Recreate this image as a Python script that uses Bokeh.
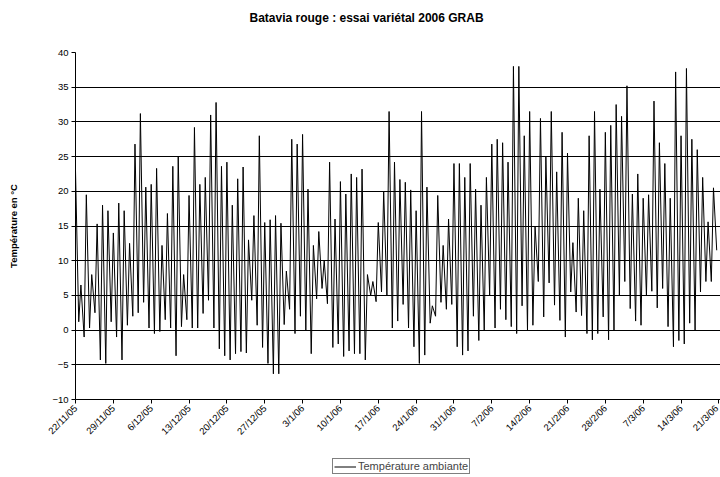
import math
from bokeh.plotting import figure
from bokeh.layouts import column
from bokeh.models import Range1d, FixedTicker, Legend, LegendItem, ColumnDataSource, Title
from bokeh.embed import file_html
from bokeh.resources import INLINE

chart_title = "Batavia rouge : essai variétal 2006 GRAB"
y_title = "Température en °C"
series_name = "Température ambiante"

tick_labels = ["22/11/05", "29/11/05", "6/12/05", "13/12/05", "20/12/05", "27/12/05",
               "3/1/06", "10/1/06", "17/1/06", "24/1/06", "31/1/06", "7/2/06",
               "14/2/06", "21/2/06", "28/2/06", "7/3/06", "14/3/06", "21/3/06"]
y_ticks = [-10, -5, 0, 5, 10, 15, 20, 25, 30, 35, 40]

# daily maximum (afternoon peak), one per day from 22/11/05
daily_max = [23, 6.5, 19.5, 8, 15.3, 18, 17.2, 14, 18.3, 17.2,
             12.5, 26.8, 31.2, 20.6, 21, 23.3, 12.2, 16.8, 23.6, 25,
             8, 19.4, 29.2, 21, 22, 31, 32.8, 23.6, 24.2, 18,
             21.8, 23.5, 13, 16.5, 28, 15.5, 15.9, 16.5, 15.4, 8.5,
             27.5, 26.8, 28.2, 20.3, 12.2, 14.2, 10, 24.2, 16, 21.4,
             19.6, 22.5, 22, 23.2, 8, 7, 15.5, 20, 31.5, 24.2,
             21.7, 21.3, 20.2, 17.2, 31.5, 20.6, 3.5, 19.4, 12.2, 16,
             24, 24, 22, 24, 20.3, 18, 22, 26.8, 27.5, 27,
             24.2, 38, 38, 28, 31.5, 15, 30.5, 25, 31.5, 22.8,
             28.5, 25.5, 12.6, 19, 17.2, 28, 31.5, 20.3, 28.5, 29.5,
             32.5, 30.8, 35.2, 19.6, 22.5, 19, 19.5, 33, 27, 24,
             19, 37.2, 28, 37.7, 27.5, 26, 22, 15.6, 20.5]

# following night minimum, one per day
daily_min = [1.2, -1, 0.3, 2.5, -4.3, -4.8, 1.2, -1, -4.3, 0.7,
             2, 2.5, 4, 0.3, -0.5, -0.2, 1.5, 0.3, -3.7, 0.5,
             1.5, 0.3, 0.3, 2.4, 4.3, 0.3, -2.7, -3.7, -4.3, -3.4,
             -3.1, -3.3, 4.3, 0.7, -2.5, -4.8, -6.3, -6.3, 0.8, 3,
             -0.5, 2, 0, -3.4, 4.5, 6, 3.8, -2.5, -2, -3.8,
             -3, -3.4, -3.4, -4.3, 5, 4.1, 5.5, 5, 0.3, 1.3,
             3.7, 0.3, -2.4, -4.8, -3.6, 1, 2, 4, 3, 3.7,
             -2.4, -3.6, -3, 2, -1.5, 0, 5, 0.3, 3, 1.5,
             0.5, -0.5, 3.5, 0, 0.7, 7, 1.9, 6.8, 3.6, 1.4,
             -1, 5.5, 2.6, 2.1, -0.5, -1.4, -0.5, 1.9, -1.4, 0,
             5, 7, 3.1, 1.3, 0.7, 5, 5.6, 3.2, 6, 0.5,
             -2.4, -1.5, -2, 1, 0, 5.5, 7, 7, 11.5]

# readings: peak at the start of each day slot, minimum later in the slot (time in days)
t, temp = [], []
for d, (hi, lo) in enumerate(zip(daily_max, daily_min)):
    t += [d, d + 0.6]
    temp += [hi, lo]
src = ColumnDataSource(dict(t=t, temp=temp))

tick_pos = [7 * i for i in range(len(tick_labels))]

FONT = "Liberation Sans"

p = figure(width=720, height=455, x_range=Range1d(0, 119.3), y_range=Range1d(-10, 40),
           output_backend="svg", toolbar_location=None,
           min_border_left=75, min_border_right=0, min_border_top=52, min_border_bottom=56)
p.background_fill_color = "white"
p.border_fill_color = "white"
p.outline_line_color = None

# spacer between the title and the frame (nearest the frame), then the title
p.add_layout(Title(text=" ", text_font_size="1px", standoff=20), "above")
p.add_layout(Title(text=chart_title, align="left", offset=174, text_font=FONT,
                   text_font_size="12px", text_font_style="bold", text_color="black"), "above")

r = p.line("t", "temp", source=src, line_color="black", line_width=1)

p.xgrid.visible = False
p.ygrid.ticker = FixedTicker(ticks=y_ticks)
p.ygrid.grid_line_color = "black"
p.ygrid.grid_line_width = 1

p.yaxis.ticker = FixedTicker(ticks=y_ticks)
p.xaxis.ticker = FixedTicker(ticks=tick_pos)
p.xaxis.major_label_overrides = {tp: lbl for tp, lbl in zip(tick_pos, tick_labels)}
p.xaxis.major_label_orientation = math.pi / 4

for ax in (p.xaxis[0], p.yaxis[0]):
    ax.axis_line_color = "black"
    ax.axis_line_width = 1
    ax.major_tick_line_color = "black"
    ax.major_tick_in = 0
    ax.major_tick_out = 4
    ax.minor_tick_line_color = None
    ax.major_label_text_font = FONT
    ax.major_label_text_font_size = "9.5px"
    ax.major_label_text_color = "black"
    ax.major_label_standoff = 3

p.yaxis.axis_label = y_title
p.yaxis.axis_label_text_font = FONT
p.yaxis.axis_label_text_font_size = "9.5px"
p.yaxis.axis_label_text_font_style = "bold"
p.yaxis.axis_label_text_color = "black"
p.yaxis.axis_label_standoff = 30

# legend strip below the chart (key renderer has no visible points)
lg = figure(width=720, height=22, x_range=Range1d(0, 1), y_range=Range1d(0, 1),
            output_backend="svg", toolbar_location=None,
            x_axis_type=None, y_axis_type=None,
            min_border_left=0, min_border_right=0, min_border_top=0, min_border_bottom=0)
lg.outline_line_color = None
lg.grid.visible = False
lg.background_fill_color = "white"
lg.border_fill_color = "white"
key = lg.line(x=[0.0, 1.0], y=[float("nan"), float("nan")], line_color="black", line_width=1)

legend = Legend(items=[LegendItem(label=series_name, renderers=[key])],
                location=(257, 3), orientation="horizontal",
                border_line_color="black", border_line_width=1,
                background_fill_color="white", background_fill_alpha=1,
                padding=1, spacing=0, margin=0,
                label_text_font=FONT, label_text_font_size="11px",
                label_height=11, glyph_height=11, glyph_width=22, label_standoff=2)
lg.add_layout(legend, "center")

open("out.html", "w").write(file_html(column(p, lg, spacing=0), INLINE))
